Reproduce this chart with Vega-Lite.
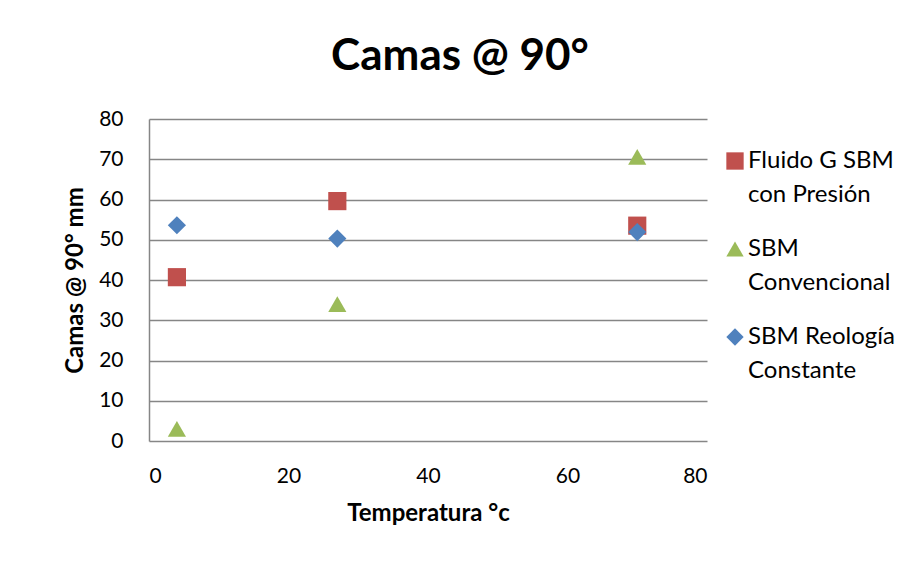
{
  "$schema": "https://vega.github.io/schema/vega-lite/v6.json",
  "autosize": "none",
  "width": 558,
  "height": 322,
  "padding": {"left": 149, "top": 119, "right": 193, "bottom": 122},
  "background": "white",
  "title": {
    "text": "Camas @ 90°",
    "font": "Lato",
    "fontSize": 44,
    "fontWeight": "bold",
    "color": "black",
    "anchor": "middle",
    "frame": "group",
    "dx": 32,
    "offset": 29
  },
  "data": {
    "values": [
      {"temp": 4, "camas": 40.7, "serie": "Fluido G SBM con Presión"},
      {"temp": 27, "camas": 59.6, "serie": "Fluido G SBM con Presión"},
      {"temp": 70, "camas": 53.5, "serie": "Fluido G SBM con Presión"},
      {"temp": 4, "camas": 3.0, "serie": "SBM Convencional"},
      {"temp": 27, "camas": 34.0, "serie": "SBM Convencional"},
      {"temp": 70, "camas": 70.6, "serie": "SBM Convencional"},
      {"temp": 4, "camas": 53.6, "serie": "SBM Reología Constante"},
      {"temp": 27, "camas": 50.3, "serie": "SBM Reología Constante"},
      {"temp": 70, "camas": 51.9, "serie": "SBM Reología Constante"}
    ]
  },
  "mark": {"type": "point", "filled": true, "opacity": 1, "size": 330},
  "encoding": {
    "x": {
      "field": "temp",
      "type": "quantitative",
      "scale": {"domain": [0, 80], "nice": false},
      "axis": {
        "values": [0, 20, 40, 60, 80],
        "title": "Temperatura °c",
        "grid": false,
        "domain": false,
        "ticks": false,
        "labelPadding": 24,
        "titlePadding": 15
      }
    },
    "y": {
      "field": "camas",
      "type": "quantitative",
      "scale": {"domain": [0, 80], "nice": false},
      "axis": {
        "values": [0, 10, 20, 30, 40, 50, 60, 70, 80],
        "title": "Camas @ 90° mm",
        "grid": true,
        "domain": true,
        "ticks": false,
        "labelPadding": 26,
        "titlePadding": 11
      }
    },
    "color": {
      "field": "serie",
      "type": "nominal",
      "scale": {
        "domain": ["Fluido G SBM con Presión", "SBM Convencional", "SBM Reología Constante"],
        "range": ["#C0504D", "#9BBB59", "#4F81BD"]
      },
      "legend": {
        "title": null,
        "orient": "none",
        "legendX": 574,
        "legendY": 30,
        "rowPadding": 30,
        "symbolSize": 300,
        "labelFont": "Lato",
        "labelFontSize": 24,
        "labelColor": "black",
        "labelOffset": 1,
        "labelLimit": 300,
        "labelExpr": "datum.label == 'Fluido G SBM con Presión' ? [' Fluido G SBM', 'con Presión'] : datum.label == 'SBM Convencional' ? ['SBM', 'Convencional'] : ['SBM Reología', 'Constante']",
        "encode": {
          "labels": {
            "update": {"dy": {"value": 17}, "lineHeight": {"value": 34}}
          }
        }
      }
    },
    "shape": {
      "field": "serie",
      "type": "nominal",
      "scale": {
        "domain": ["Fluido G SBM con Presión", "SBM Convencional", "SBM Reología Constante"],
        "range": ["square", "triangle-up", "diamond"]
      },
      "legend": null
    }
  },
  "config": {
    "view": {"stroke": null},
    "style": {"guide-label": {"lineHeight": 34}},
    "axis": {
      "labelFont": "Lato",
      "labelFontSize": 21,
      "labelColor": "black",
      "titleFont": "Lato",
      "titleFontSize": 24,
      "titleFontWeight": "bold",
      "titleColor": "black",
      "gridColor": "#868686",
      "gridWidth": 1.5,
      "gridOpacity": 1,
      "domainColor": "#868686",
      "domainWidth": 1.5
    }
  }
}
